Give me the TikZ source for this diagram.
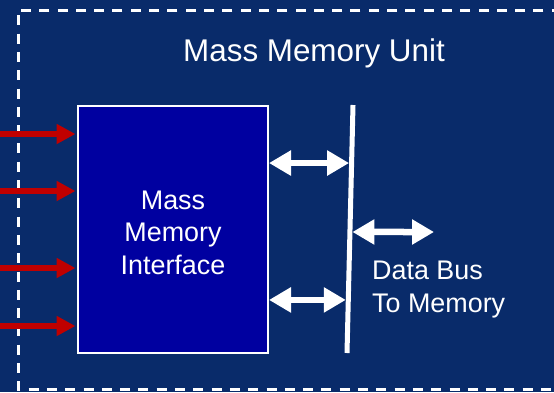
\documentclass[tikz,border=0pt]{standalone}
\usepackage{fontspec}
\setmainfont{Liberation Sans}
\usetikzlibrary{arrows.meta}
\definecolor{navy}{RGB}{9,43,106}
\definecolor{boxblue}{RGB}{0,0,160}
\definecolor{arrred}{RGB}{192,0,0}
\begin{document}
\begin{tikzpicture}[x=1bp,y=-1bp,
  redarrow/.style={draw=arrred,line width=6bp,-{Triangle[length=19bp,width=19bp]}},
  busarrow/.style={draw=white,line width=6.5bp,{Triangle[length=22bp,width=24bp]}-{Triangle[length=22bp,width=24bp]}},
  border/.style={draw=white,line width=3bp,dash pattern=on 10bp off 8.3bp},
  lbl/.style={text=white,font=\fontsize{27}{32.5}\selectfont,inner sep=0pt}]
\fill[navy] (0,0) rectangle (554,392);
\useasboundingbox (0,0) rectangle (554,392);
\draw[border] (580,10) -- (18,10) -- (18,389) -- (580,389);
\node[lbl,font=\fontsize{31.5}{36}\selectfont] (title) at (314,53) {Mass Memory Unit};
\node[draw=white,fill=boxblue,line width=2bp,minimum width=190bp,minimum height=247bp,
  inner sep=0pt] (mmi) at (173,229.5) {};
\node[lbl,align=center] (mmitext) at ([yshift=-3bp]mmi.center) {Mass\\Memory\\Interface};
\coordinate (bt) at (353,105);
\coordinate (bb) at (347,353);
\draw[white,line width=5bp] (bt) -- (bb);
\path (bt) -- (bb) coordinate[pos=0.234] (p1) coordinate[pos=0.512] (p3) coordinate[pos=0.786] (p2);
\draw[busarrow] (mmi.east |- p1) -- ([xshift=-2.5]p1);
\draw[busarrow] (mmi.east |- p2) -- ([xshift=-2.5]p2);
\coordinate (dbend) at (434,232);
\draw[busarrow] ([xshift=2.5]p3) -- (dbend);
\node[lbl,align=left,anchor=west] (dbus) at (372,289.5) {Data Bus\\To Memory};
\foreach \y [count=\i] in {134,191,268,326}{
  \coordinate (r\i) at (0,\y);
  \draw[redarrow] (r\i) -- ([xshift=-1.5]mmi.west |- r\i);
}
\end{tikzpicture}
\end{document}
